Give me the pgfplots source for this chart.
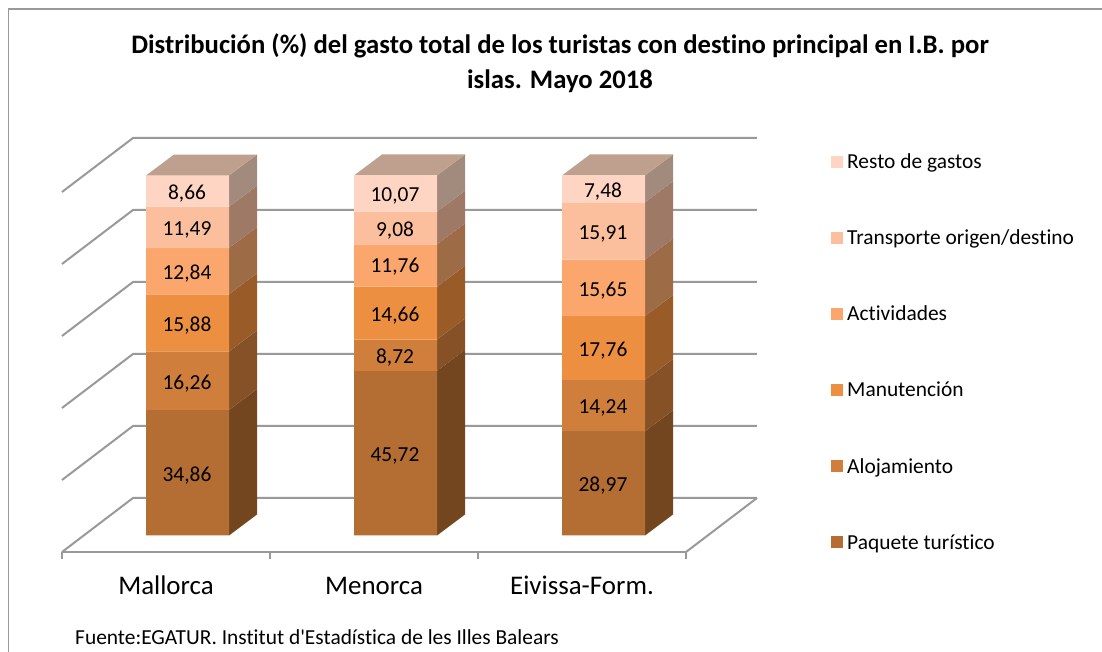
\documentclass[border=0pt]{standalone}
\usepackage{fontspec}
\setmainfont{Carlito}[Ligatures={TeX,NoCommon}]
\usepackage{pgfplots}
\pgfplotsset{compat=1.18}

\definecolor{paq}{HTML}{B46D33}
\definecolor{alo}{HTML}{CF7F3B}
\definecolor{man}{HTML}{ED8F41}
\definecolor{act}{HTML}{FAA66C}
\definecolor{tra}{HTML}{FBBF9E}
\definecolor{res}{HTML}{FDD5C2}
\definecolor{paqS}{HTML}{74461F}
\definecolor{aloS}{HTML}{865126}
\definecolor{manS}{HTML}{995C29}
\definecolor{actS}{HTML}{9E6B47}
\definecolor{traS}{HTML}{9E7A66}
\definecolor{resS}{HTML}{A28A7D}
\definecolor{topF}{HTML}{BF9F8E}
\definecolor{wall}{HTML}{999999}

% side face of one segment: colour, category, bottom, top
\newcommand{\sideface}[4]{%
  \pgfmathsetmacro\xa{#2+0.3029}%
  \pgfmathsetmacro\xb{#2+0.4375}%
  \pgfmathsetmacro\ya{#3+5.833}%
  \pgfmathsetmacro\yb{#4+5.833}%
  \addplot[fill=#1,draw=none,forget plot] coordinates {(\xa,#3) (\xb,\ya) (\xb,\yb) (\xa,#4)} -- cycle;
}
% top face: category, total
\newcommand{\topface}[2]{%
  \pgfmathsetmacro\xa{#1-0.0962}%
  \pgfmathsetmacro\xb{#1+0.3029}%
  \pgfmathsetmacro\xc{#1+0.4375}%
  \pgfmathsetmacro\xd{#1+0.0385}%
  \pgfmathsetmacro\yb{#2+5.833}%
  \addplot[fill=topF,draw=none,forget plot] coordinates {(\xa,#2) (\xb,#2) (\xc,\yb) (\xd,\yb)} -- cycle;
}
% one level of the back wall
\newcommand{\wallline}[2]{%
  \addplot[wall,line width=2pt,forget plot] coordinates {(-0.5,#1) (-0.1587,#2) (2.8413,#2)};
}

\pgfplotsset{
  front/.style={ybar,stack plots=y,bar shift=21.5pt,bar width=83pt,fill=#1,draw=none},
  lab/.style={only marks,mark=none,forget plot,stack plots=false,point meta=explicit symbolic,
    nodes near coords,
    every node near coord/.style={anchor=center,xshift=21pt,yshift=-2.5pt,text=black,
      font=\fontsize{21.4}{25}\selectfont}},
}

\begin{document}
\begin{tikzpicture}
\path[use as bounding box] (0,0) rectangle (1102pt,652pt);
\draw[wall,line width=1.8pt] (8.5pt,0) -- (8.5pt,643pt) -- (1102pt,643pt);
\node[align=center,font=\fontsize{26.7}{35}\selectfont\bfseries] at (560pt,588.5pt)
  {Distribución (\%) del gasto total de los turistas con destino principal en I.B. por\\islas. Mayo 2018};
\node[anchor=west,font=\fontsize{21.4}{25}\selectfont,inner sep=0pt] at (75pt,15pt)
  {Fuente:EGATUR. Institut d\textquotesingle Estadística de les Illes Balears};
\begin{axis}[
  at={(62pt,100pt)},
  anchor=south west,
  scale only axis,
  width=624pt,
  height=414pt,
  xmin=-0.5, xmax=2.5,
  ymin=-4.583, ymax=110.417,
  clip=false,
  axis y line=none,
  axis x line=bottom,
  x axis line style={-,draw=wall,line width=2pt},
  xtick={0,1,2},
  xticklabels={Mallorca,Menorca,Eivissa-Form.},
  minor xtick={-0.5,0.5,1.5,2.5},
  major tick length=0pt,
  minor tick length=7pt,
  tick align=outside,
  minor tick style={draw=wall,line width=1.5pt},
  xticklabel style={font=\fontsize{26.9}{30}\selectfont,inner sep=0pt,
    text height=20pt,text depth=6pt,yshift=-22pt},
  reverse legend,
  legend cell align=left,
  legend style={at={(1.2324,0.9674)},anchor=north west,draw=none,fill=none,
    inner sep=0pt,row sep=55.8pt,font=\fontsize{21.4}{25}\selectfont,
    /tikz/every odd column/.append style={column sep=2pt}},
  legend image code/.code={\fill[#1,draw=none] (0pt,-6pt) rectangle (12pt,6pt);},
]
% back wall and floor
\wallline{-4.583}{10.417}
\addplot[wall,line width=2pt,forget plot] coordinates {(2.8413,10.417) (2.5,-4.583)};
\wallline{15.417}{30.417}
\wallline{35.417}{50.417}
\wallline{55.417}{70.417}
\wallline{75.417}{90.417}
\wallline{95.417}{110.417}

% side and top faces
\sideface{paqS}{0}{0}{34.86}
\sideface{aloS}{0}{34.86}{51.12}
\sideface{manS}{0}{51.12}{67.00}
\sideface{actS}{0}{67.00}{79.84}
\sideface{traS}{0}{79.84}{91.33}
\sideface{resS}{0}{91.33}{99.99}
\topface{0}{99.99}
\sideface{paqS}{1}{0}{45.72}
\sideface{aloS}{1}{45.72}{54.44}
\sideface{manS}{1}{54.44}{69.10}
\sideface{actS}{1}{69.10}{80.86}
\sideface{traS}{1}{80.86}{89.94}
\sideface{resS}{1}{89.94}{100.01}
\topface{1}{100.01}
\sideface{paqS}{2}{0}{28.97}
\sideface{aloS}{2}{28.97}{43.21}
\sideface{manS}{2}{43.21}{60.97}
\sideface{actS}{2}{60.97}{76.62}
\sideface{traS}{2}{76.62}{92.53}
\sideface{resS}{2}{92.53}{100.01}
\topface{2}{100.01}

% front faces
\addplot[front=paq] coordinates {(0,34.86) (1,45.72) (2,28.97)};
\addplot[front=alo] coordinates {(0,16.26) (1,8.72) (2,14.24)};
\addplot[front=man] coordinates {(0,15.88) (1,14.66) (2,17.76)};
\addplot[front=act] coordinates {(0,12.84) (1,11.76) (2,15.65)};
\addplot[front=tra] coordinates {(0,11.49) (1,9.08) (2,15.91)};
\addplot[front=res] coordinates {(0,8.66) (1,10.07) (2,7.48)};
\legend{Paquete turístico,Alojamiento,Manutención,Actividades,Transporte origen/destino,Resto de gastos}

% value labels at the middle of each segment
\addplot[lab] table[x=x,y=y,meta=v] {
x y v
0 17.43 34,86
0 42.99 16,26
0 59.06 15,88
0 73.42 12,84
0 85.585 11,49
0 95.66 8,66
1 22.86 45,72
1 50.08 8,72
1 61.77 14,66
1 75.48 11,76
1 85.40 9,08
1 94.975 10,07
2 14.485 28,97
2 36.09 14,24
2 52.09 17,76
2 68.795 15,65
2 84.575 15,91
2 96.27 7,48
};
\end{axis}
\end{tikzpicture}
\end{document}
